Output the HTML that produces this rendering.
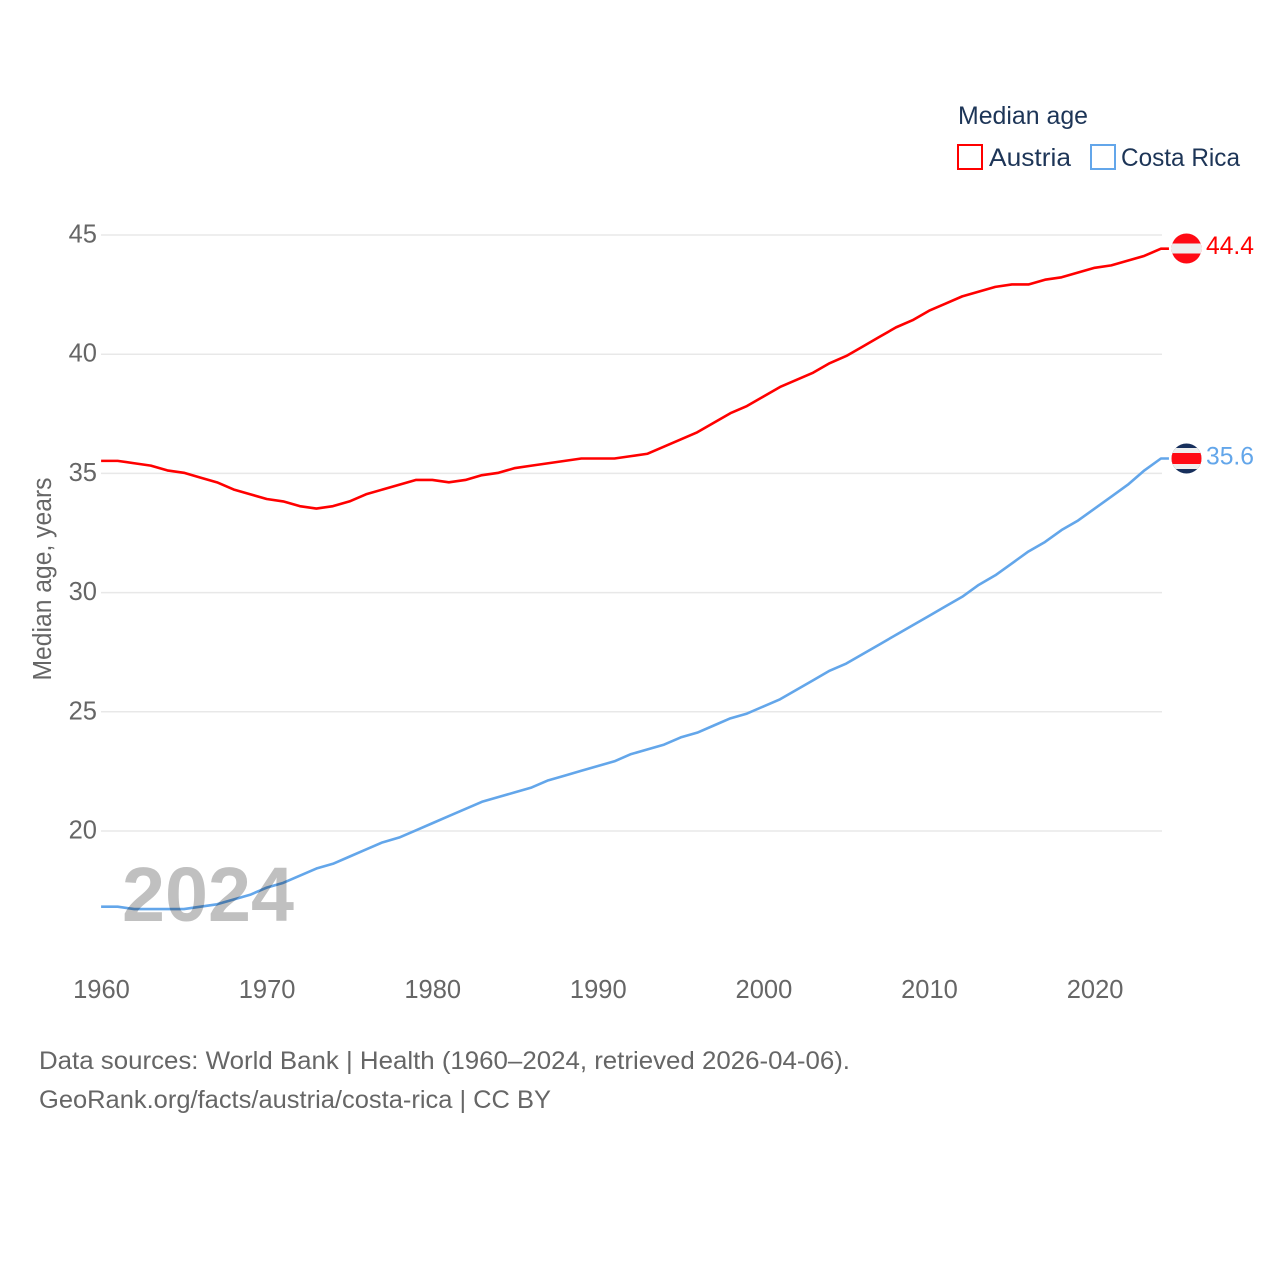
<!DOCTYPE html>
<html lang="en">
<head>
<meta charset="utf-8">
<title>Median age: Austria and Costa Rica</title>
<style>
html,body{margin:0;padding:0;background:#fff;width:1280px;height:1280px;overflow:hidden}
svg{display:block}
text{font-family:"Liberation Sans",sans-serif}
.tick{font-size:25.5px;fill:#666}
.foot{font-size:25px;fill:#666}
.leg{font-size:25px;fill:#1d3557}
</style>
</head>
<body>
<svg id="chart" width="1280" height="1280" viewBox="0 0 1280 1280" xmlns="http://www.w3.org/2000/svg">
  <g id="grid"></g>
  <g id="yticks"></g>
  <g id="xticks"></g>
  <text x="51" y="579" text-anchor="middle" transform="rotate(-90 51 579)" class="tick" textLength="203" lengthAdjust="spacingAndGlyphs">Median age, years</text>
  <g id="series" transform="translate(-0.4,-0.6)"></g>
  <text x="122" y="921" font-size="77" font-weight="bold" fill="#c0c0c0" style="mix-blend-mode:multiply" textLength="172" lengthAdjust="spacingAndGlyphs">2024</text>

  <text x="958" y="124" class="leg" textLength="130" lengthAdjust="spacingAndGlyphs">Median age</text>
  <g>
    <rect x="958" y="145" width="24" height="24" fill="none" stroke="#ff0000" stroke-width="2"/>
    <text x="989" y="166" class="leg" textLength="82" lengthAdjust="spacingAndGlyphs">Austria</text>
  </g>
  <g>
    <rect x="1091" y="145" width="24" height="24" fill="none" stroke="#63a6ea" stroke-width="2"/>
    <text x="1121" y="166" class="leg" textLength="119" lengthAdjust="spacingAndGlyphs">Costa Rica</text>
  </g>

  <defs>
    <clipPath id="clip-at"><circle id="clip-at-c" cx="1186.5" cy="248.5" r="15"/></clipPath>
    <clipPath id="clip-cr"><circle id="clip-cr-c" cx="1186.5" cy="458.5" r="15"/></clipPath>
  </defs>
  <g id="flag-at" clip-path="url(#clip-at)">
    <rect x="1171" y="233" width="31" height="31" fill="#ff0a14"/>
    <rect x="1171" y="243.5" width="31" height="10" fill="#eeeeee"/>
  </g>
  <g id="flag-cr" clip-path="url(#clip-cr)">
    <rect x="1171" y="443" width="31" height="31" fill="#172f5c"/>
    <rect x="1171" y="448" width="31" height="21" fill="#eeeeee"/>
    <rect x="1171" y="453" width="31" height="11" fill="#ff0a14"/>
  </g>
  <text x="1206" y="254" font-size="25" fill="#ff0000" textLength="48" lengthAdjust="spacingAndGlyphs">44.4</text>
  <text x="1206" y="464.5" font-size="25" fill="#63a6ea" textLength="48" lengthAdjust="spacingAndGlyphs">35.6</text>

  <text x="39" y="1069" class="foot" textLength="811" lengthAdjust="spacingAndGlyphs">Data sources: World Bank | Health (1960–2024, retrieved 2026-04-06).</text>
  <text x="39" y="1108" class="foot" textLength="512" lengthAdjust="spacingAndGlyphs">GeoRank.org/facts/austria/costa-rica | CC BY</text>
</svg>
<script>
const startYear = 1960;
const austriaValues = [35.5,35.5,35.4,35.3,35.1,35.0,34.8,34.6,34.3,34.1,33.9,33.8,33.6,33.5,33.6,33.8,34.1,34.3,34.5,34.7,34.7,34.6,34.7,34.9,35.0,35.2,35.3,35.4,35.5,35.6,35.6,35.6,35.7,35.8,36.1,36.4,36.7,37.1,37.5,37.8,38.2,38.6,38.9,39.2,39.6,39.9,40.3,40.7,41.1,41.4,41.8,42.1,42.4,42.6,42.8,42.9,42.9,43.1,43.2,43.4,43.6,43.7,43.9,44.1,44.4];
const costaRicaValues = [16.8,16.8,16.7,16.7,16.7,16.7,16.8,16.9,17.1,17.3,17.6,17.8,18.1,18.4,18.6,18.9,19.2,19.5,19.7,20.0,20.3,20.6,20.9,21.2,21.4,21.6,21.8,22.1,22.3,22.5,22.7,22.9,23.2,23.4,23.6,23.9,24.1,24.4,24.7,24.9,25.2,25.5,25.9,26.3,26.7,27.0,27.4,27.8,28.2,28.6,29.0,29.4,29.8,30.3,30.7,31.2,31.7,32.1,32.6,33.0,33.5,34.0,34.5,35.1,35.6];
const yTickLabels = [20,25,30,35,40,45];
const xTickLabels = [1960,1970,1980,1990,2000,2010,2020];

const NS = 'http://www.w3.org/2000/svg';
function xScale(year){ return 101.5 + (year - 1960) * 16.56; }
function yScale(v){ return 831 - (v - 20) * 23.84; }

const grid = document.getElementById('grid');
const yticks = document.getElementById('yticks');
const xticks = document.getElementById('xticks');
const series = document.getElementById('series');

yTickLabels.forEach(function(v){
  const l = document.createElementNS(NS,'line');
  l.setAttribute('x1',101);
  l.setAttribute('x2',1162);
  l.setAttribute('y1',yScale(v));
  l.setAttribute('y2',yScale(v));
  l.setAttribute('stroke','#e8e8e8');
  l.setAttribute('stroke-width','1.5');
  
  
  grid.appendChild(l);
  const t = document.createElementNS(NS,'text');
  t.setAttribute('x',97);
  t.setAttribute('y',yScale(v)+7.5);
  t.setAttribute('text-anchor','end');
  t.setAttribute('class','tick');
  
  
  t.textContent = v;
  yticks.appendChild(t);
});

xTickLabels.forEach(function(y){
  const t = document.createElementNS(NS,'text');
  t.setAttribute('x',xScale(y));
  t.setAttribute('y',998);
  t.setAttribute('text-anchor','middle');
  t.setAttribute('class','tick');
  
  
  t.textContent = y;
  xticks.appendChild(t);
});

function drawLine(values, color){
  let pts = values.map(function(v,i){ return xScale(startYear+i).toFixed(2)+','+yScale(v).toFixed(2); });
  const lastY = yScale(values[values.length-1]).toFixed(2);
  const lastX = xScale(startYear+values.length-1);
  pts.push((lastX+8).toFixed(2)+','+lastY);
  const p = document.createElementNS(NS,'polyline');
  p.setAttribute('points',pts.join(' '));
  p.setAttribute('fill','none');
  p.setAttribute('stroke',color);
  p.setAttribute('stroke-width','2.6');
  p.setAttribute('stroke-linejoin','round');
  
  
  series.appendChild(p);
}
drawLine(austriaValues,'#ff0000');
drawLine(costaRicaValues,'#63a6ea');
</script>
</body>
</html>
